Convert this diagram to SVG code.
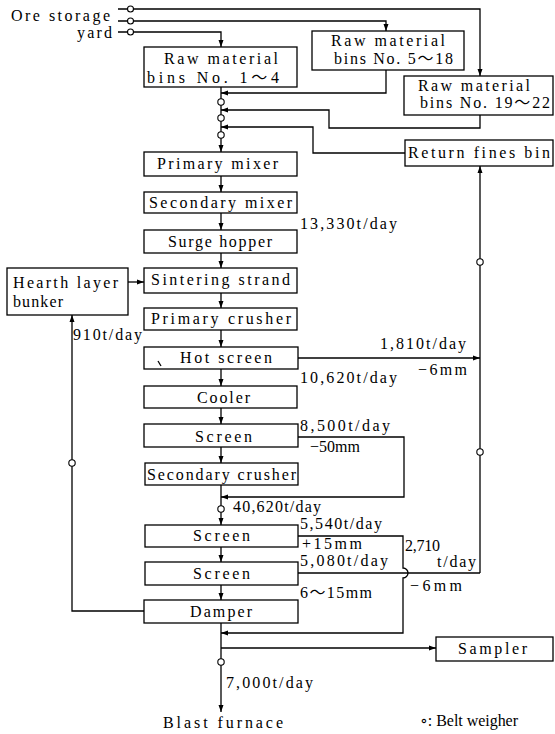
<svg xmlns="http://www.w3.org/2000/svg" width="555" height="734" viewBox="0 0 555 734">
<style>
.t{font-family:"Liberation Serif","DejaVu Serif","Noto Sans CJK JP",serif;font-size:16px;fill:#000}
.b{fill:#fff;stroke:#000;stroke-width:1.3}
.c{fill:none;stroke:#000;stroke-width:1.3}
.w{fill:#fff;stroke:#000;stroke-width:1.1}
</style>
<defs>
<marker id="ah" markerUnits="userSpaceOnUse" markerWidth="7" markerHeight="6" refX="7" refY="3" orient="auto">
<path d="M0,0.5 L7,3 L0,5.5 z" fill="#000"/>
</marker>
</defs>
<rect width="555" height="734" fill="#fff"/>

<g id="connectors">
<path class="c" d="M118,9 H127 M134,9 H480 V76" marker-end="url(#ah)"/>
<path class="c" d="M118,21 H127 M134,21 H386 V31" marker-end="url(#ah)"/>
<path class="c" d="M118,32 H127 M134,32 H221 V47" marker-end="url(#ah)"/>
<circle class="w" cx="130.5" cy="9" r="3"/>
<circle class="w" cx="130.5" cy="21" r="3"/>
<circle class="w" cx="130.5" cy="32" r="3"/>
<path class="c" d="M386,70 V93 H221" marker-end="url(#ah)"/>
<path class="c" d="M480,115 V128 H329 V110 H221" marker-end="url(#ah)"/>
<path class="c" d="M405,153 H313 V127 H221" marker-end="url(#ah)"/>
<path class="c" d="M221,87 V152" marker-end="url(#ah)"/>
<path class="c" d="M221,176 V192" marker-end="url(#ah)"/>
<path class="c" d="M221,213 V230" marker-end="url(#ah)"/>
<path class="c" d="M221,253 V268" marker-end="url(#ah)"/>
<path class="c" d="M221,293 V308" marker-end="url(#ah)"/>
<path class="c" d="M221,330 V347" marker-end="url(#ah)"/>
<path class="c" d="M221,369 V386" marker-end="url(#ah)"/>
<path class="c" d="M221,408 V424" marker-end="url(#ah)"/>
<path class="c" d="M221,447 V463" marker-end="url(#ah)"/>
<path class="c" d="M221,485 V525" marker-end="url(#ah)"/>
<path class="c" d="M221,547 V562" marker-end="url(#ah)"/>
<path class="c" d="M221,585 V600" marker-end="url(#ah)"/>
<path class="c" d="M221,623 V712" marker-end="url(#ah)"/>
<path class="c" d="M128,282 H144" marker-end="url(#ah)"/>
<path class="c" d="M144,611 H72 V315" marker-end="url(#ah)"/>
<path class="c" d="M298,358 H480" marker-end="url(#ah)"/>
<path class="c" d="M480,573 V166" marker-end="url(#ah)"/>
<path class="c" d="M298,437 H404 V497 H221" marker-end="url(#ah)"/>
<path class="c" d="M298,573 H480"/>
<path class="c" d="M298,536 H403 V568 A5,5 0 0 1 403,578 V633 H221" marker-end="url(#ah)"/>
<path class="c" d="M221,648 H436" marker-end="url(#ah)"/>
<circle class="w" cx="221" cy="102" r="3.2"/>
<circle class="w" cx="221" cy="118" r="3.2"/>
<circle class="w" cx="221" cy="135" r="3.2"/>
<circle class="w" cx="221" cy="509" r="3.2"/>
<circle class="w" cx="221" cy="662" r="3.2"/>
<circle class="w" cx="72" cy="463" r="3.2"/>
<circle class="w" cx="480" cy="262" r="3.2"/>
<circle class="w" cx="480" cy="452" r="3.2"/>
</g>

<g id="ore-storage">
<text class="t" x="11" y="21" textLength="99" lengthAdjust="spacing">Ore storage</text>
<text class="t" x="77" y="38" textLength="35" lengthAdjust="spacing">yard</text>
</g>
<g id="bins-1-4">
<rect class="b" x="144" y="47" width="153" height="40"/>
<text class="t" x="164" y="64" textLength="114" lengthAdjust="spacing">Raw material</text>
<text class="t" x="147" y="83" textLength="132" lengthAdjust="spacing">bins No. 1～4</text>
</g>
<g id="bins-5-18">
<rect class="b" x="312" y="31" width="152" height="39"/>
<text class="t" x="331" y="46" textLength="114" lengthAdjust="spacing">Raw material</text>
<text class="t" x="334" y="64" textLength="119" lengthAdjust="spacing">bins No. 5～18</text>
</g>
<g id="bins-19-22">
<rect class="b" x="404" y="76" width="149" height="39"/>
<text class="t" x="418" y="91" textLength="112" lengthAdjust="spacing">Raw material</text>
<text class="t" x="420" y="108" textLength="130" lengthAdjust="spacing">bins No. 19～22</text>
</g>
<g id="return-fines-bin">
<rect class="b" x="405" y="140" width="148" height="26"/>
<text class="t" x="408" y="158" textLength="142" lengthAdjust="spacing">Return fines bin</text>
</g>
<g id="primary-mixer">
<rect class="b" x="144" y="152" width="153" height="24"/>
<text class="t" x="157" y="169" textLength="121" lengthAdjust="spacing">Primary mixer</text>
</g>
<g id="secondary-mixer">
<rect class="b" x="144" y="192" width="153" height="21"/>
<text class="t" x="149" y="208" textLength="143" lengthAdjust="spacing">Secondary mixer</text>
</g>
<g id="surge-hopper">
<rect class="b" x="144" y="230" width="153" height="23"/>
<text class="t" x="168" y="247" textLength="104" lengthAdjust="spacing">Surge hopper</text>
</g>
<g id="sintering-strand">
<rect class="b" x="144" y="268" width="153" height="25"/>
<text class="t" x="151" y="285" textLength="139" lengthAdjust="spacing">Sintering strand</text>
</g>
<g id="primary-crusher">
<rect class="b" x="144" y="308" width="153" height="22"/>
<text class="t" x="151" y="324" textLength="140" lengthAdjust="spacing">Primary crusher</text>
</g>
<g id="hot-screen">
<rect class="b" x="144" y="347" width="154" height="22"/>
<path class="c" d="M158,361 L161,366" stroke-width="1"/>
<text class="t" x="180" y="363" textLength="92" lengthAdjust="spacing">Hot screen</text>
</g>
<g id="cooler">
<rect class="b" x="144" y="386" width="153" height="22"/>
<text class="t" x="197" y="403" textLength="53" lengthAdjust="spacing">Cooler</text>
</g>
<g id="screen-1">
<rect class="b" x="144" y="424" width="154" height="23"/>
<text class="t" x="195" y="442" textLength="57" lengthAdjust="spacing">Screen</text>
</g>
<g id="secondary-crusher">
<rect class="b" x="145" y="463" width="153" height="22"/>
<text class="t" x="147" y="480" textLength="149" lengthAdjust="spacing">Secondary crusher</text>
</g>
<g id="screen-2">
<rect class="b" x="145" y="525" width="153" height="22"/>
<text class="t" x="193" y="541" textLength="57" lengthAdjust="spacing">Screen</text>
</g>
<g id="screen-3">
<rect class="b" x="145" y="562" width="153" height="23"/>
<text class="t" x="193" y="579" textLength="57" lengthAdjust="spacing">Screen</text>
</g>
<g id="damper">
<rect class="b" x="144" y="600" width="154" height="23"/>
<text class="t" x="190" y="617" textLength="62" lengthAdjust="spacing">Damper</text>
</g>
<g id="hearth-layer-bunker">
<rect class="b" x="7" y="268" width="121" height="47"/>
<text class="t" x="13" y="288" textLength="105" lengthAdjust="spacing">Hearth layer</text>
<text class="t" x="13" y="307" textLength="50" lengthAdjust="spacing">bunker</text>
</g>
<g id="sampler">
<rect class="b" x="436" y="637" width="117" height="24"/>
<text class="t" x="458" y="654" textLength="69" lengthAdjust="spacing">Sampler</text>
</g>
<g id="blast-furnace">
<text class="t" x="163" y="728" textLength="120" lengthAdjust="spacing">Blast furnace</text>
</g>

<g id="labels">
<text class="t" x="73" y="340" textLength="69" lengthAdjust="spacing">910t/day</text>
<text class="t" x="300" y="229" textLength="97" lengthAdjust="spacing">13,330t/day</text>
<text class="t" x="380" y="349" textLength="86" lengthAdjust="spacing">1,810t/day</text>
<text class="t" x="418" y="375" textLength="49" lengthAdjust="spacing">−6mm</text>
<text class="t" x="300" y="383" textLength="97" lengthAdjust="spacing">10,620t/day</text>
<text class="t" x="300" y="431" textLength="90" lengthAdjust="spacing">8,500t/day</text>
<text class="t" x="310" y="452" textLength="50" lengthAdjust="spacing">−50mm</text>
<text class="t" x="233" y="512" textLength="88" lengthAdjust="spacing">40,620t/day</text>
<text class="t" x="300" y="529" textLength="82" lengthAdjust="spacing">5,540t/day</text>
<text class="t" x="302" y="549" textLength="60" lengthAdjust="spacing">+15mm</text>
<text class="t" x="300" y="566" textLength="88" lengthAdjust="spacing">5,080t/day</text>
<text class="t" x="405" y="551" textLength="35" lengthAdjust="spacing">2,710</text>
<text class="t" x="437" y="567" textLength="39" lengthAdjust="spacing">t/day</text>
<text class="t" x="410" y="591" textLength="52" lengthAdjust="spacing">−6mm</text>
<text class="t" x="300" y="598" textLength="72" lengthAdjust="spacing">6～15mm</text>
<text class="t" x="226" y="688" textLength="87" lengthAdjust="spacing">7,000t/day</text>
<text class="t" x="420" y="726" textLength="98" lengthAdjust="spacing">∘: Belt weigher</text>
</g>
</svg>
